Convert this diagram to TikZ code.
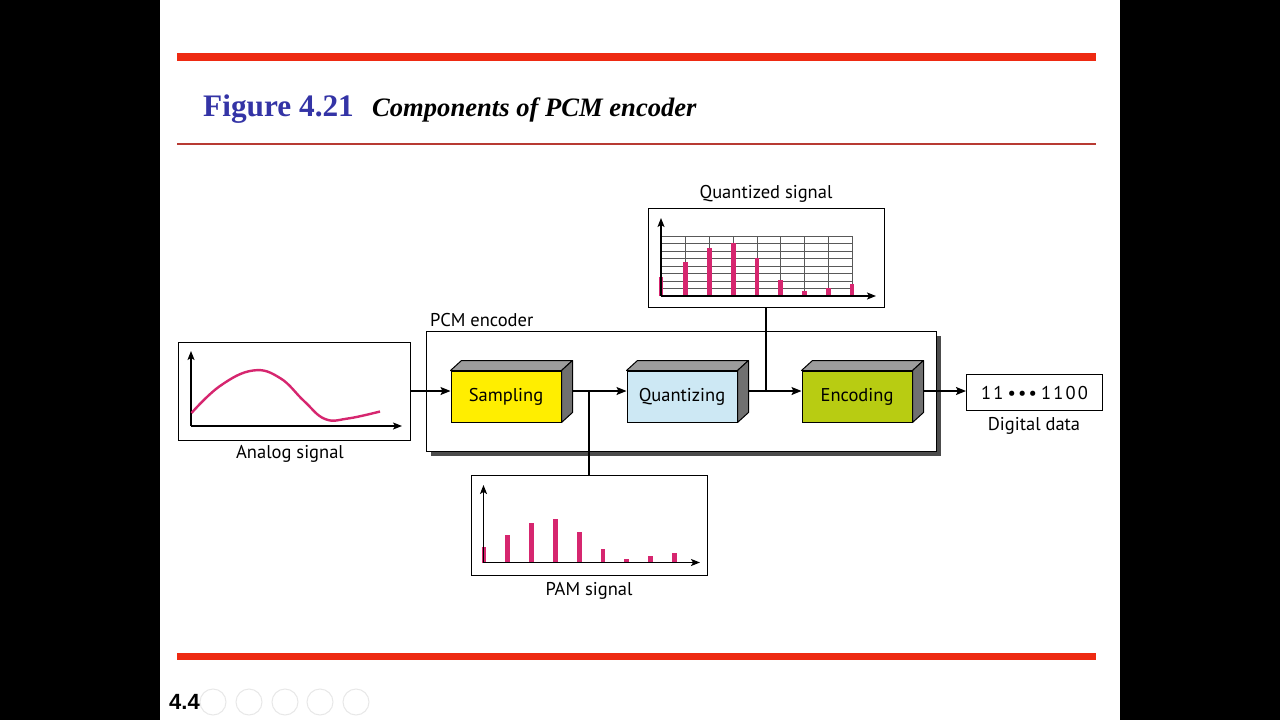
\documentclass[tikz,border=0pt]{standalone}
\usepackage{fontspec}
\setmainfont{PT Sans}
\newfontfamily\titlefont{Liberation Serif}
\newfontfamily\spacedfont[LetterSpace=12]{PT Sans}
\newfontfamily\numfont{Liberation Sans}
\usetikzlibrary{arrows.meta,calc}
\definecolor{slidered}{HTML}{EE2A12}
\definecolor{thinred}{HTML}{B83A32}
\definecolor{titleblue}{HTML}{3434A6}
\definecolor{sigpink}{HTML}{D6266F}
\definecolor{sampyellow}{HTML}{FFEE00}
\definecolor{quantblue}{HTML}{CDE8F4}
\definecolor{encgreen}{HTML}{B8CC12}
\definecolor{topgray}{HTML}{9C9C9C}
\definecolor{sidegray}{HTML}{707070}
\newcommand{\blockthree}[4]{%
  \node[front, fill=#4] (#1) at (#2,396.5) {#3};
  \filldraw[fill=topgray, line width=1pt, line join=round] (#1.north west) -- ++(11,-10) -- ($(#1.north east)+(11,-10)$) -- (#1.north east) -- cycle;
  \filldraw[fill=sidegray, line width=1pt, line join=round] (#1.north east) -- ++(11,-10) -- ($(#1.south east)+(11,-10)$) -- (#1.south east) -- cycle;
}
\begin{document}
\begin{tikzpicture}[x=1pt,y=-1pt,
  lbl/.style={font=\fontsize{18.5}{22}\selectfont, inner sep=0pt},
  panel/.style={draw, line width=1.2pt, fill=white, inner sep=0pt, anchor=north west},
  front/.style={draw, line width=1pt, minimum width=110pt, minimum height=51pt, inner sep=0pt, font=\fontsize{18.5}{22}\selectfont},
  arr/.style={line width=1.3pt, -{Stealth[length=10pt,width=8pt,inset=2pt]}},
  link/.style={line width=1.1pt},
  axis/.style={line width=1.2pt, -{Stealth[length=9pt,width=7pt,inset=2pt]}},
  bar/.style={line width=4.8pt, sigpink},
  grid/.style={line width=0.8pt, black!65}]
\useasboundingbox (0,0) rectangle (1280,720);
\fill[black] (0,0) rectangle (1280,720);
\fill[white] (160,0) rectangle (1120,720);
% slide rules
\fill[slidered] (177,53) rectangle (1096,60.5);
\fill[thinred] (177,142.5) rectangle (1096,144.5);
\fill[slidered] (177,652.5) rectangle (1096,660);
% title
\node[anchor=base west, inner sep=0pt, text=titleblue, font=\titlefont\bfseries\fontsize{31.3}{36}\selectfont] (fig) at (203,116) {Figure 4.21};
\node[anchor=base west, inner sep=0pt, font=\titlefont\bfseries\itshape\fontsize{26.6}{31}\selectfont] (cap) at (372,116) {Components of PCM encoder};
% PCM encoder frame with shadow
\fill[black!70] (430.5,335.5) rectangle (940.5,455.5);
\node[panel, minimum width=510pt, minimum height=120pt] (pcm) at (426,331) {};
\node[lbl, anchor=base west] (pcmlbl) at (430,326) {PCM encoder};
% analog signal
\node[panel, minimum width=232pt, minimum height=98pt] (analog) at (178,342) {};
\draw[axis] (191,426) -- (191,351);
\draw[axis] (191,426) -- (402,426);
\draw[sigpink, line width=2.4pt] plot[smooth, tension=0.7] coordinates {(191.5,413) (220,386) (253,370.5) (280,378) (304,401) (325,419) (348,418.5) (380,411.5)};
\node[lbl, anchor=base] (analoglbl) at (290,458) {Analog signal};
% blocks
\blockthree{samp}{506}{Sampling}{sampyellow}
\blockthree{quant}{682}{Quantizing}{quantblue}
\blockthree{enc}{857}{Encoding}{encgreen}
% digital data
\node[panel, minimum width=136pt, minimum height=36pt] (data) at (966,374) {};
\node[inner sep=0pt, font=\spacedfont\fontsize{18.5}{22}\selectfont] (datatext) at (data.center) {11\hspace{4pt}•••\hspace{4pt}1100};
\node[lbl, anchor=base] (datalbl) at (1034,430) {Digital data};
% quantized signal
\node[panel, minimum width=236pt, minimum height=99pt] (qsig) at (648,208) {};
\node[lbl, anchor=base] (qsiglbl) at (766,198) {Quantized signal};
\foreach \yy in {236,243.5,251,258.5,266,273.5,281,288.5} \draw[grid] (661,\yy) -- (852,\yy);
\foreach \xx in {685.7,709.5,733.3,757,780.8,804.5,828.3,852} \draw[grid] (\xx,236) -- (\xx,296);
\foreach \xx/\tt in {661/277,685.7/262,709.5/247.5,733.3/243.3,757/258.3,780.8/280,804.5/291,828.3/288.3,852/283.7}
  \draw[bar] (\xx,296) -- (\xx,\tt);
\draw[axis] (661,296) -- (661,218);
\draw[axis] (661,296) -- (876,296);
% PAM signal
\node[panel, minimum width=236pt, minimum height=100pt] (pam) at (471,475) {};
\node[lbl, anchor=base] (pamlbl) at (589,595) {PAM signal};
\foreach \xx/\tt in {484/546.5,507.7/535,531.6/522.7,555.4/519.3,579.2/531.7,603/549.3,626.8/559.3,650.6/555.7,674.4/552.7}
  \draw[bar] (\xx,562.5) -- (\xx,\tt);
\draw[axis] (483.5,562.5) -- (483.5,485);
\draw[axis] (483.5,562.5) -- (700,562.5);
% connectors
\coordinate (ay) at (0,391);
\coordinate (sampout) at ($(samp.east |- ay)+(11,0)$);
\coordinate (quantout) at ($(quant.east |- ay)+(11,0)$);
\coordinate (encout) at ($(enc.east |- ay)+(11,0)$);
\coordinate (pambr) at (589,391);
\coordinate (qbr) at (766,391);
\draw[arr] (analog.east |- ay) -- (samp.west |- ay);
\draw[arr] (sampout) -- (quant.west |- ay);
\draw[arr] (quantout) -- (enc.west |- ay);
\draw[arr] (encout) -- (data.west |- ay);
\draw[link] (pambr) -- (pambr |- pam.north);
\draw[link] (qbr) -- (qbr |- qsig.south);
% slide number and faint controls
\foreach \cx in {213,249,285,320,356} \draw[black!9, line width=1pt] (\cx,702) circle (13);
\node[anchor=base west, inner sep=0pt, font=\numfont\bfseries\fontsize{22}{26}\selectfont] (slideno) at (169,709) {4.4};
\end{tikzpicture}
\end{document}
